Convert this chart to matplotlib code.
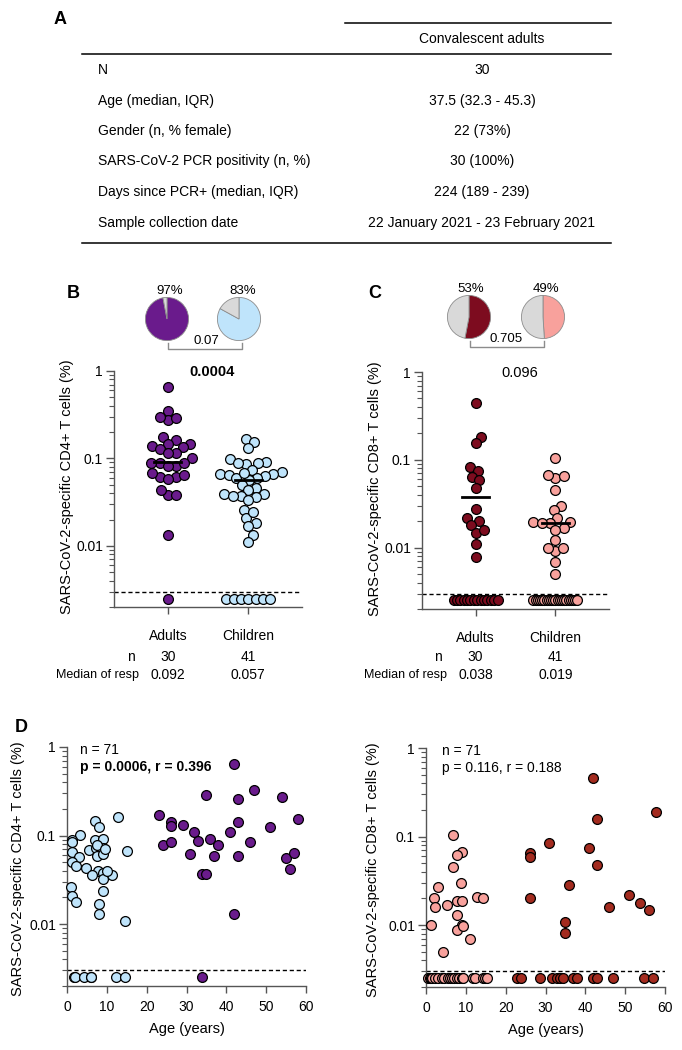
import numpy as np
import matplotlib
matplotlib.use('Agg')
import matplotlib.pyplot as plt
from matplotlib.ticker import LogLocator, FixedLocator, NullFormatter
from matplotlib.transforms import blended_transform_factory

plt.rcParams['font.family'] = ['Liberation Sans', 'DejaVu Sans']

W, H = 682, 1050

# ---- panel A table
table_rows = ['N', 'Age (median, IQR)', 'Gender (n, % female)',
              'SARS-CoV-2 PCR positivity (n, %)', 'Days since PCR+ (median, IQR)',
              'Sample collection date']
table_vals = ['30', '37.5 (32.3 - 45.3)', '22 (73%)', '30 (100%)', '224 (189 - 239)',
              '22 January 2021 - 23 February 2021']
table_header = 'Convalescent adults'

# ---- panels B / C
groups = ['Adults', 'Children']
n_total = [30, 41]

cd4_adults = [0.65, 0.35, 0.276, 0.30, 0.29, 0.177, 0.162, 0.148, 0.148, 0.138,
              0.129, 0.134, 0.116, 0.116, 0.100, 0.0885, 0.0885, 0.0825, 0.0825,
              0.0885, 0.0618, 0.0675, 0.0618, 0.0645, 0.0575, 0.0385, 0.0432,
              0.0385, 0.0132]
cd4_children = [0.169, 0.154, 0.130, 0.0985, 0.0917, 0.0878, 0.0862, 0.0878, 0.0738,
                0.0665, 0.0706, 0.0648, 0.0665, 0.063, 0.0594, 0.0594, 0.057, 0.069,
                0.0499, 0.0457, 0.043, 0.0394, 0.0375, 0.0394, 0.0361, 0.0375, 0.0332,
                0.026, 0.0209, 0.0243, 0.0182, 0.0168, 0.0132, 0.011]
cd4_nonresp = [1, 7]
cd4_medians = [0.092, 0.057]
cd4_pct = [97, 83]
cd4_p = '0.0004'
cd4_pie_p = '0.07'

cd8_adults = [0.449, 0.184, 0.155, 0.0831, 0.075, 0.0641, 0.0587, 0.0481, 0.0275,
              0.0219, 0.0199, 0.0179, 0.0148, 0.0159, 0.0109, 0.0079]
cd8_children = [0.1045, 0.0624, 0.068, 0.0647, 0.0449, 0.030, 0.0266, 0.0216, 0.019,
                0.0196, 0.0196, 0.019, 0.0169, 0.016, 0.0123, 0.0091, 0.010, 0.010,
                0.0069, 0.00504]
cd8_nonresp = [14, 21]
cd8_medians = [0.038, 0.019]
cd8_pct = [53, 49]
cd8_p = '0.096'
cd8_pie_p = '0.705'

# ---- panel D (age vs response)
d4_adult_age = [42, 35, 43, 47, 54, 23, 26, 26, 29, 32, 43, 41, 51, 58, 24, 26.2, 33,
                36, 38, 46, 31, 37, 43, 55, 57, 56, 33.9, 34.9, 42]
d4_adult_val = [0.642, 0.287, 0.261, 0.33, 0.275, 0.169, 0.143, 0.128, 0.132, 0.110,
                0.142, 0.111, 0.124, 0.154, 0.0787, 0.0845, 0.086, 0.0906, 0.0775,
                0.085, 0.0618, 0.0587, 0.0587, 0.0557, 0.064, 0.0418, 0.0367, 0.0367,
                0.013]
d4_adult_nr_age = [34]
d4_child_age = [12.9, 7.0, 8.1, 3.3, 1.25, 7.0, 9.1, 9.1, 5.4, 7.3, 15.0, 1.25, 3.0,
                7.5, 9.1, 1.25, 2.2, 4.7, 7.9, 9.1, 6.2, 11.2, 9.0, 1.0, 1.3, 2.2, 9.0,
                8.0, 8.0, 14.6, 7.5, 9.5, 1.3, 10.0]
d4_child_val = [0.160, 0.146, 0.124, 0.1005, 0.088, 0.088, 0.092, 0.0716, 0.068,
                0.0728, 0.0668, 0.0646, 0.0576, 0.059, 0.0624, 0.0498, 0.0452, 0.0433,
                0.0397, 0.038, 0.0358, 0.0363, 0.0325, 0.0262, 0.0209, 0.0176, 0.0238,
                0.017, 0.013, 0.0108, 0.078, 0.07, 0.084, 0.04]
d4_child_nr_age = [1.8, 2.0, 4.3, 5.9, 6.1, 12.2, 14.6]
d4_stats = ['n = 71', 'p = 0.0006, r = 0.396']

d8_adult_age = [41.8, 57.8, 43, 31, 41, 26, 26, 43, 35.9, 26, 50.9, 53.8, 55.9, 45.9,
                34.8, 34.8]
d8_adult_val = [0.457, 0.187, 0.156, 0.084, 0.075, 0.0648, 0.0584, 0.0482, 0.0281,
                0.020, 0.022, 0.0179, 0.015, 0.016, 0.0109, 0.00805]
d8_adult_nr_age = [22.8, 23.9, 28.6, 31.7, 32.8, 33.7, 34.5, 37.0, 38.0, 42.0, 42.9,
                   46.9, 54.8, 56.9]
d8_child_age = [6.7, 9.0, 7.9, 6.9, 3.1, 8.9, 2.0, 2.3, 5.2, 7.9, 9.0, 12.7, 14.4, 7.8,
                1.2, 9.0, 7.8, 11.1, 4.3, 9.3]
d8_child_val = [0.1045, 0.0676, 0.062, 0.045, 0.0272, 0.0296, 0.02, 0.0161, 0.017,
                0.0189, 0.0189, 0.0209, 0.02, 0.013, 0.01, 0.01, 0.0089, 0.0069, 0.005,
                0.0098]
d8_child_nr_age = [0.6, 1.0, 1.2, 1.6, 2.3, 3.0, 3.9, 4.5, 5.5, 6.0, 6.5, 7.0, 7.7, 8.2,
                   9.0, 9.3, 11.9, 12.3, 14.4, 14.8, 15.2]
d8_stats = ['n = 71', 'p = 0.116, r = 0.188']

LOD = 0.003        # detection limit (dashed line)
LOD_PLOT = 0.0025  # where non-responders are drawn

PURPLE = '#6a1b8c'
LBLUE = '#bfe4fb'
MAROON = '#7d0c1f'
PINK = '#f8a19c'
BRICK = '#a32b1f'
GREY = '#d9d9d9'
AXC = '#555555'
DOT = 10.0      # marker diameter in px
SWARM_D = 8.5   # spacing used for the swarm (dots may overlap a little)
S = 50


def px_axes(fig, x0, y0, x1, y1, **kw):
    return fig.add_axes([x0 / W, 1 - y1 / H, (x1 - x0) / W, (y1 - y0) / H], **kw)


def swarm_offsets(vals, d, px_per_dec):
    y = np.log10(vals) * px_per_dec
    placed = []
    offs = np.zeros(len(y))
    for i in np.argsort(y):
        cands = [0.0]
        for px, py in placed:
            dy = y[i] - py
            if abs(dy) < d:
                dx = np.sqrt(d * d - dy * dy)
                cands += [px + dx, px - dx]
        cands.sort(key=abs)
        for c in cands:
            if all((c - px) ** 2 + (y[i] - py) ** 2 >= d * d - 1e-6 for px, py in placed):
                break
        offs[i] = c
        placed.append((c, y[i]))
    return offs


def style_log_y(ax):
    ax.set_yscale('log')
    ax.set_ylim(0.002, 1)
    ax.yaxis.set_major_locator(FixedLocator([0.01, 0.1, 1]))
    ax.set_yticks([0.01, 0.1, 1], labels=['0.01', '0.1', '1'])
    ax.yaxis.set_minor_locator(LogLocator(base=10, subs=np.arange(2, 10)))
    ax.yaxis.set_minor_formatter(NullFormatter())
    ax.tick_params(axis='y', which='major', length=6, width=1, color=AXC, labelsize=10, pad=2)
    ax.tick_params(axis='y', which='minor', length=3.5, width=0.8, color=AXC)
    ax.patch.set_visible(False)
    for sp in ['top', 'right']:
        ax.spines[sp].set_visible(False)
    for sp in ['left', 'bottom']:
        ax.spines[sp].set_color(AXC)
        ax.spines[sp].set_linewidth(1.0)


def dot_panel(ax, box, data, nonresp, medians, colors):
    x0, y0, x1, y1 = box
    ax.set_xlim(0.33, 2.67)
    style_log_y(ax)
    ppu = (x1 - x0) / 2.34
    ppd = (y1 - y0) / np.log10(1 / 0.002)
    for i, (vals, nr, med, col) in enumerate(zip(data, nonresp, medians, colors)):
        xc = i + 1
        offs = swarm_offsets(np.array(vals), SWARM_D, ppd) / ppu
        ax.scatter(xc + offs, vals, s=S, c=col, edgecolors='black', linewidths=0.9,
                   zorder=3, clip_on=False)
        hw = min((nr - 1) * DOT / 2, 22) / ppu
        ax.scatter(np.linspace(xc - hw, xc + hw, nr), np.full(nr, LOD_PLOT), s=S, c=col,
                   edgecolors='black', linewidths=0.9, zorder=3, clip_on=False)
        ax.plot([xc - 0.17, xc + 0.17], [med, med], color='black', lw=2, zorder=4)
    ax.axhline(LOD, color='black', ls=(0, (3, 2)), lw=1)
    ax.set_xticks([1, 2], labels=groups)
    ax.tick_params(axis='x', length=5, width=1, color=AXC, labelsize=10, pad=11)


def age_panel(ax, child, adult, ccol, acol):
    ax.set_xlim(0, 60)
    style_log_y(ax)
    for (age, val, nr_age), col in ((child, ccol), (adult, acol)):
        ax.scatter(age, val, s=S, c=col, edgecolors='black', linewidths=0.9, zorder=3,
                   clip_on=False)
        ax.scatter(nr_age, np.full(len(nr_age), LOD_PLOT), s=S, c=col, edgecolors='black',
                   linewidths=0.9, zorder=3, clip_on=False)
    ax.axhline(LOD, color='black', ls=(0, (3, 2)), lw=1)
    ax.set_xticks(np.arange(0, 61, 10))
    ax.tick_params(axis='x', length=5, width=1, color=AXC, labelsize=10, pad=5)
    ax.set_xlabel('Age (years)', fontsize=10.5, labelpad=6)


def pie(fig, cx, cy, pct, col):
    ax = px_axes(fig, cx - 22, cy - 22, cx + 22, cy + 22)
    ax.pie([pct, 100 - pct], colors=[col, GREY], startangle=90, counterclock=False,
           wedgeprops=dict(edgecolor='#8c8c8c', linewidth=0.6))
    ax.set_xlim(-1.02, 1.02)
    ax.set_ylim(-1.02, 1.02)


fig = plt.figure(figsize=(W / 100, H / 100), dpi=100)
ov = fig.add_axes([0, 0, 1, 1], zorder=10)
ov.set_xlim(0, W)
ov.set_ylim(H, 0)
ov.axis('off')

# ---- A: table
ov.text(60, 20, 'A', fontsize=13, fontweight='bold', ha='center', va='center')
ov.plot([345, 611], [23, 23], color='black', lw=1.1)
ov.text(482, 39, table_header, fontsize=10, ha='center', va='center')
ov.plot([82, 611], [54, 54], color='black', lw=1.1)
for k, (lab, val) in enumerate(zip(table_rows, table_vals)):
    yy = 70 + k * 30.5
    ov.text(98, yy, lab, fontsize=10, ha='left', va='center')
    ov.text(482, yy, val, fontsize=10, ha='center', va='center')
ov.plot([82, 611], [243, 243], color='black', lw=1.1)

# ---- B / C dot plots
panels = [
    dict(letter='B', lx=73, box=(114, 371, 302, 607), data=[cd4_adults, cd4_children],
         nr=cd4_nonresp, med=cd4_medians, cols=[PURPLE, LBLUE], pct=cd4_pct,
         pies=[(167, 319, 170, 291), (239, 319, 243, 291)], br=(168, 242, 349, 206),
         pp=cd4_pie_p, p=cd4_p, bold=True, ylab='SARS-CoV-2-specific CD4+ T cells (%)',
         ylx=67, nlx=131, mlx=139),
    dict(letter='C', lx=375, box=(422, 372, 609, 609), data=[cd8_adults, cd8_children],
         nr=cd8_nonresp, med=cd8_medians, cols=[MAROON, PINK], pct=cd8_pct,
         pies=[(469, 317, 471, 289), (543, 317, 546, 289)], br=(470, 544, 347, 506),
         pp=cd8_pie_p, p=cd8_p, bold=False, ylab='SARS-CoV-2-specific CD8+ T cells (%)',
         ylx=375, nlx=438, mlx=447),
]
for P in panels:
    x0, y0, x1, y1 = P['box']
    ax = px_axes(fig, *P['box'])
    dot_panel(ax, P['box'], P['data'], P['nr'], P['med'], P['cols'])
    ov.text(P['lx'], 293, P['letter'], fontsize=13, fontweight='bold', ha='center', va='center')
    for (cx, cy, tx, ty), pc, col in zip(P['pies'], P['pct'], P['cols']):
        pie(fig, cx, cy, pc, col)
        ov.text(tx, ty, f'{pc}%', fontsize=9.5, ha='center', va='center')
    bx0, bx1, by, btx = P['br']
    ov.plot([bx0, bx0, bx1, bx1], [by - 6, by, by, by - 6], color='#8c8c8c', lw=1)
    ov.text(btx, by - 8, P['pp'], fontsize=9.5, ha='center', va='center')
    ov.text((x0 + x1) / 2 + 4, y0 + 1, P['p'], fontsize=10.5, ha='center', va='center',
            fontweight='bold' if P['bold'] else 'normal')
    ov.text(P['ylx'], (y0 + y1) / 2 - 2, P['ylab'], fontsize=10.5, rotation=90,
            ha='center', va='center')
    tr = blended_transform_factory(ax.transData, ov.transData)
    ov.text(P['nlx'], 657, 'n', fontsize=10, ha='center', va='center')
    ov.text(P['mlx'], 675, 'Median of resp', fontsize=9, ha='right', va='center')
    for i in range(2):
        ov.text(i + 1, 657, str(n_total[i]), transform=tr, fontsize=10, ha='center', va='center')
        ov.text(i + 1, 675, f'{P["med"][i]:.3f}', transform=tr, fontsize=10, ha='center',
                va='center')

# ---- D scatter vs age
ov.text(21, 727, 'D', fontsize=13, fontweight='bold', ha='center', va='center')
dpanels = [
    dict(box=(67, 747, 306, 986), child=(d4_child_age, d4_child_val, d4_child_nr_age),
         adult=(d4_adult_age, d4_adult_val, d4_adult_nr_age), cols=(LBLUE, PURPLE),
         stats=d4_stats, bold=True, tx=80, ylab='SARS-CoV-2-specific CD4+ T cells (%)', ylx=18),
    dict(box=(426, 748, 665, 987), child=(d8_child_age, d8_child_val, d8_child_nr_age),
         adult=(d8_adult_age, d8_adult_val, d8_adult_nr_age), cols=(PINK, BRICK),
         stats=d8_stats, bold=False, tx=442, ylab='SARS-CoV-2-specific CD8+ T cells (%)', ylx=373),
]
for P in dpanels:
    x0, y0, x1, y1 = P['box']
    ax = px_axes(fig, *P['box'])
    age_panel(ax, P['child'], P['adult'], *P['cols'])
    ov.text(P['tx'], y0 + 3, P['stats'][0], fontsize=10, ha='left', va='center')
    ov.text(P['tx'], y0 + 20, P['stats'][1], fontsize=10, ha='left', va='center',
            fontweight='bold' if P['bold'] else 'normal')
    ov.text(P['ylx'], (y0 + y1) / 2 + 2, P['ylab'], fontsize=10.5, rotation=90,
            ha='center', va='center')

fig.savefig('out.png', dpi=100)
